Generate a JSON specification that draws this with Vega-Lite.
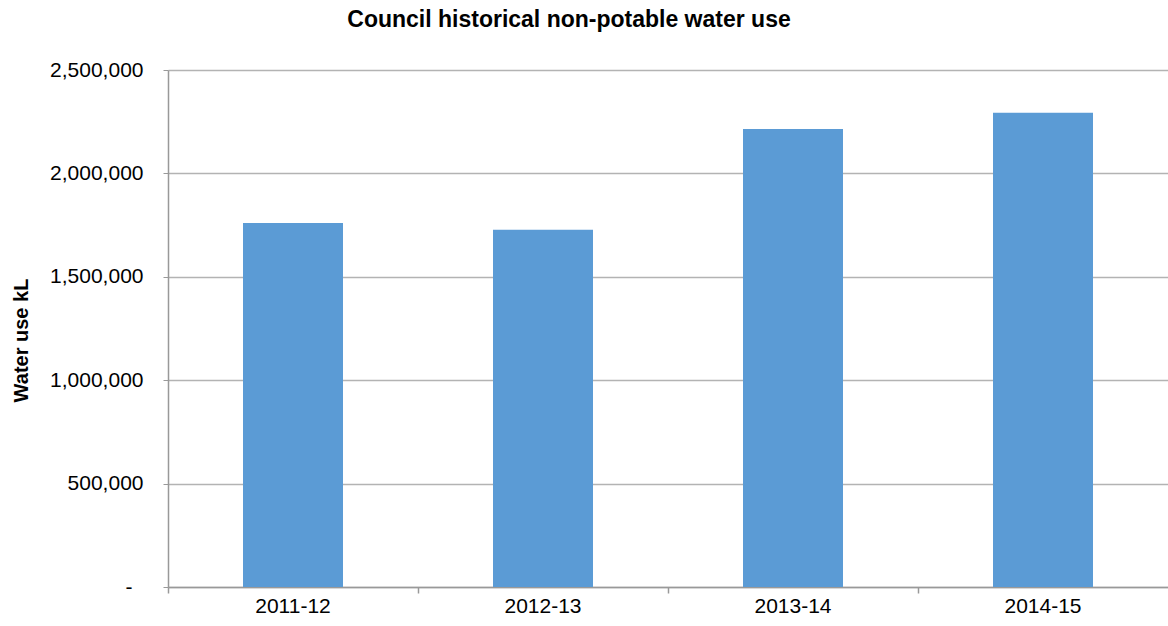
{
  "$schema": "https://vega.github.io/schema/vega-lite/v6.json",
  "autosize": "none",
  "width": 1000,
  "height": 517,
  "padding": {"left": 168, "top": 70, "right": 0, "bottom": 39},
  "background": "white",
  "config": {
    "view": {"stroke": null},
    "font": "Liberation Sans"
  },
  "title": {
    "text": "Council historical non-potable water use",
    "fontSize": 23,
    "fontWeight": "bold",
    "color": "#000000",
    "font": "Liberation Sans",
    "anchor": "middle",
    "frame": "group",
    "dx": -99,
    "offset": 27
  },
  "data": {
    "values": [
      {"year": "2011-12", "use": 1760000},
      {"year": "2012-13", "use": 1728000},
      {"year": "2013-14", "use": 2215000},
      {"year": "2014-15", "use": 2293000}
    ]
  },
  "resolve": {"axis": {"x": "independent"}},
  "layer": [
    {
      "mark": {"type": "bar", "color": "#5B9BD5"},
      "encoding": {
        "x": {
          "field": "year",
          "type": "nominal",
          "sort": null,
          "scale": {"paddingInner": 0.6, "paddingOuter": 0.3},
          "axis": {
            "orient": "bottom",
            "title": null,
            "labelAngle": 0,
            "labelFontSize": 21,
            "labelColor": "#000000",
            "labelPadding": 8,
            "ticks": false,
            "domain": true,
            "domainColor": "#999999",
            "domainWidth": 1.5,
            "grid": false
          }
        },
        "y": {
          "field": "use",
          "type": "quantitative",
          "scale": {"domain": [0, 2500000], "nice": false},
          "axis": {
            "title": "Water use kL",
            "titleFontSize": 20,
            "titleFontWeight": "bold",
            "titleColor": "#000000",
            "titlePadding": 18,
            "titleY": 270,
            "values": [0, 500000, 1000000, 1500000, 2000000, 2500000],
            "labelExpr": "datum.value == 0 ? '-' : format(datum.value, ',')",
            "labelFontSize": 21,
            "labelColor": "#000000",
            "labelPadding": {"condition": {"test": "datum.value == 0", "value": 31}, "value": 20},
            "tickSize": 5,
            "tickColor": "#999999",
            "domain": true,
            "domainColor": "#999999",
            "domainWidth": 1.5,
            "grid": true,
            "gridColor": "#b3b3b3",
            "gridWidth": 1.3
          }
        }
      }
    },
    {
      "mark": {"type": "bar", "opacity": 0},
      "encoding": {
        "x": {
          "field": "year",
          "type": "nominal",
          "sort": null,
          "axis": {
            "orient": "bottom",
            "title": null,
            "labels": false,
            "domain": false,
            "grid": false,
            "ticks": true,
            "tickSize": 6,
            "tickColor": "#999999",
            "tickWidth": 1.5,
            "bandPosition": -0.75
          }
        }
      }
    }
  ]
}
